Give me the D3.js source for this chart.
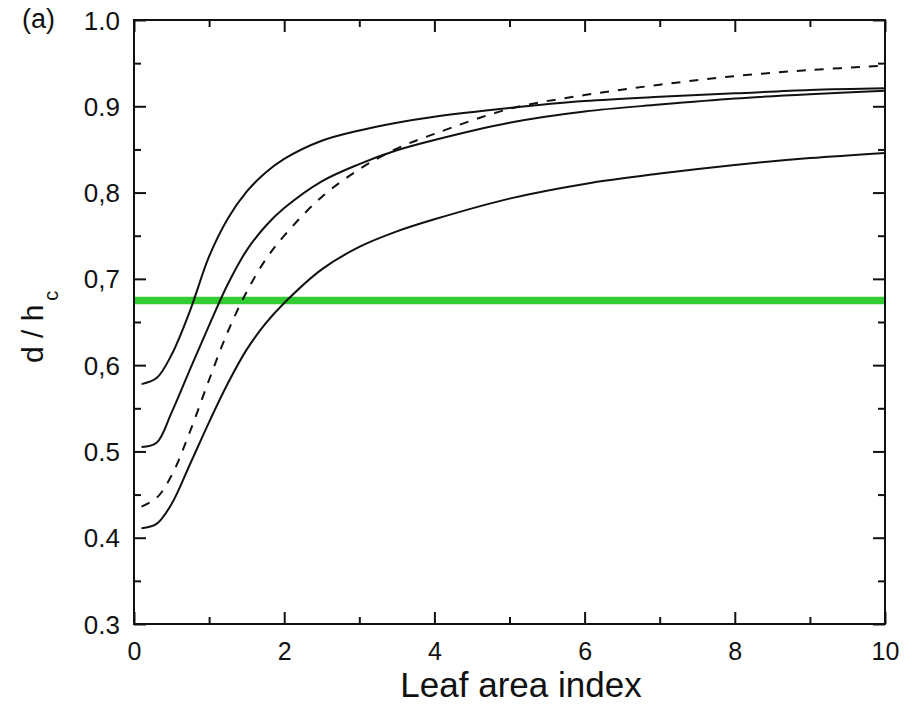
<!DOCTYPE html>
<html>
<head>
<meta charset="utf-8">
<script src="https://cdn.jsdelivr.net/npm/d3@7"></script>
<style>
    body { margin: 0; background: #fff; }
    svg text { font-family: "Liberation Sans", Arial, sans-serif; fill: #111; }
</style>
</head>
<body>
<svg id="chart"></svg>
<script>
// leaf area index grid shared by all curves
const lai = [0.1, 0.3, 0.5, 0.75, 1.0, 1.25, 1.5, 1.75, 2, 2.5, 3, 3.5, 4, 5, 6, 7, 8, 9, 10];

// d / hc, one array per curve
const curveTop    = [0.578, 0.585, 0.612, 0.664, 0.726, 0.770, 0.801, 0.823, 0.839, 0.860, 0.872, 0.881, 0.888, 0.898, 0.906, 0.911, 0.915, 0.919, 0.921];
const curveSecond = [0.505, 0.510, 0.545, 0.596, 0.646, 0.694, 0.733, 0.761, 0.782, 0.813, 0.833, 0.849, 0.861, 0.881, 0.894, 0.902, 0.909, 0.914, 0.918];
const curveDashed = [0.436, 0.446, 0.472, 0.524, 0.583, 0.639, 0.685, 0.722, 0.750, 0.795, 0.827, 0.851, 0.868, 0.897, 0.913, 0.925, 0.935, 0.942, 0.947];
const curveBottom = [0.411, 0.416, 0.439, 0.486, 0.534, 0.579, 0.618, 0.648, 0.672, 0.711, 0.737, 0.755, 0.769, 0.793, 0.810, 0.822, 0.832, 0.840, 0.846];

// horizontal reference level (green)
const refLevel = 0.675;

// tick values and labels (the picture mixes commas and dots)
const xTicks = [0, 2, 4, 6, 8, 10];
const xMinorTicks = [1, 3, 5, 7, 9];
const yTicks = [0.3, 0.4, 0.5, 0.6, 0.7, 0.8, 0.9, 1.0];
const yTickLabels = ['0.3', '0.4', '0.5', '0,6', '0,7', '0,8', '0.9', '1.0'];
const yMinorTicks = [0.35, 0.45, 0.55, 0.65, 0.75, 0.85, 0.95];

const width = 913, height = 713;
const margin = { top: 20, right: 28, bottom: 89, left: 134 };
const innerW = width - margin.left - margin.right;
const innerH = height - margin.top - margin.bottom;

const svg = d3.select('#chart')
    .attr('width', width)
    .attr('height', height);

svg.append('rect')
    .attr('width', width)
    .attr('height', height)
    .attr('fill', '#fff');

const g = svg.append('g')
    .attr('transform', `translate(${margin.left},${margin.top})`);

const x = d3.scaleLinear().domain([0, 10]).range([0, innerW]);
const y = d3.scaleLinear().domain([0.3, 1.0]).range([innerH, 0]);

// axes with inward ticks on all four sides
function addAxis(axisFn, scale, values, size, transform, fmt) {
    const a = g.append('g')
        .attr('transform', transform)
        .call(axisFn(scale).tickValues(values).tickSize(size).tickSizeOuter(0).tickFormat(fmt));
    a.select('.domain').remove();
    a.selectAll('.tick line').attr('stroke', '#111').attr('stroke-width', 2);
    return a;
}

const noLabel = () => '';

const xAxis = addAxis(d3.axisBottom, x, xTicks, -12, `translate(0,${innerH})`, d => d);
addAxis(d3.axisBottom, x, xMinorTicks, -7, `translate(0,${innerH})`, noLabel);
addAxis(d3.axisTop, x, xTicks, -12, 'translate(0,0)', noLabel);
addAxis(d3.axisTop, x, xMinorTicks, -7, 'translate(0,0)', noLabel);

const yAxis = addAxis(d3.axisLeft, y, yTicks, -12, 'translate(0,0)', (d, i) => yTickLabels[i]);
addAxis(d3.axisLeft, y, yMinorTicks, -7, 'translate(0,0)', noLabel);
addAxis(d3.axisRight, y, yTicks, -12, `translate(${innerW},0)`, noLabel);
addAxis(d3.axisRight, y, yMinorTicks, -7, `translate(${innerW},0)`, noLabel);

xAxis.selectAll('.tick text')
    .attr('y', 36)
    .attr('dy', 0)
    .style('font-size', '25px');

yAxis.selectAll('.tick text')
    .attr('x', -14)
    .attr('dy', '0.35em')
    .style('font-size', '26px');

// green reference line
g.append('line')
    .attr('x1', x(0))
    .attr('x2', x(10))
    .attr('y1', y(refLevel))
    .attr('y2', y(refLevel))
    .attr('stroke', '#33cc33')
    .attr('stroke-width', 7.5);

// curves
const line = d3.line()
    .x(d => x(d[0]))
    .y(d => y(d[1]))
    .curve(d3.curveCatmullRom.alpha(0.5));

const series = [
    { values: curveTop, dash: null },
    { values: curveSecond, dash: null },
    { values: curveDashed, dash: '9,9' },
    { values: curveBottom, dash: null }
];

g.selectAll('path.curve')
    .data(series)
    .join('path')
    .attr('class', 'curve')
    .attr('d', s => line(lai.map((v, i) => [v, s.values[i]])))
    .attr('fill', 'none')
    .attr('stroke', '#111')
    .attr('stroke-width', 2)
    .attr('stroke-dasharray', s => s.dash);

// plot frame
g.append('rect')
    .attr('width', innerW)
    .attr('height', innerH)
    .attr('fill', 'none')
    .attr('stroke', '#111')
    .attr('stroke-width', 2);

// axis titles
svg.append('text')
    .attr('x', 521)
    .attr('y', 697)
    .attr('text-anchor', 'middle')
    .style('font-size', '35px')
    .text('Leaf area index');

const yTitle = svg.append('text')
    .attr('transform', 'translate(43,363) rotate(-90)')
    .attr('text-anchor', 'start')
    .style('font-size', '30px');
yTitle.append('tspan').text('d / h');
yTitle.append('tspan')
    .attr('dx', 4)
    .attr('dy', 15)
    .style('font-size', '20px')
    .text('c');

// panel label
svg.append('text')
    .attr('x', 22)
    .attr('y', 28)
    .style('font-size', '27px')
    .text('(a)');
</script>
</body>
</html>
